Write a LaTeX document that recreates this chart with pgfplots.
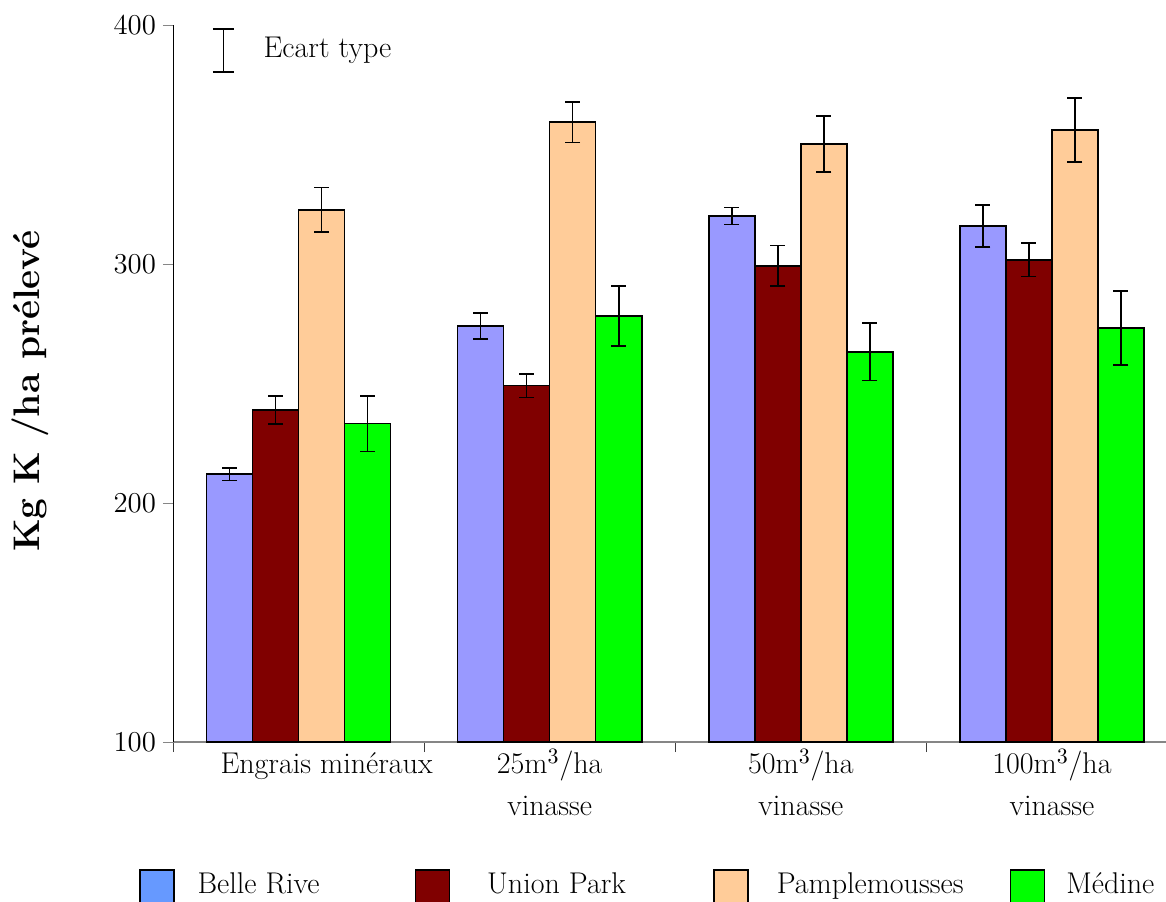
\documentclass[border=0pt]{standalone}
\usepackage{pgfplots}
\pgfplotsset{compat=1.18}
\usepackage{pgfplotstable}
\definecolor{brbar}{HTML}{9999FF}
\definecolor{brleg}{HTML}{6699FF}
\definecolor{upc}{HTML}{800000}
\definecolor{pac}{HTML}{FFCC99}
\definecolor{mec}{HTML}{00FF00}
\definecolor{axgray}{HTML}{868686}

\pgfplotstableread{
x br brerr up uperr pa paerr me meerr
0 212.1 2.6 238.9 5.8 322.7 9.3 233.2 11.7
1 274.1 5.4 249.1 5.0 359.4 8.5 278.2 12.5
2 320.1 3.5 299.2 8.5 350.3 11.7 263.2 12.0
3 316.0 8.8 301.7 7.0 356.1 13.4 273.2 15.5
}\data

\pgfplotsset{
  base/.style={scale only axis, width=502.25pt, height=358.5pt,
    at={(86.5pt,-371pt)}, anchor=south west,
    xmin=-0.5, xmax=3.5, ymin=100, ymax=400},
  sqleg/.style={legend image code/.code={\path[draw=black, fill=#1, line width=0.8pt] (0pt,-5pt) rectangle (17pt,12pt);}},
  mybar/.style={ybar, bar width=0.1832, bar shift=0pt, draw=black, line width=0.8pt, forget plot},
  myerr/.style={error bars/.cd, y dir=both, y explicit,
    error bar style={line width=0.8pt, black},
    error mark options={rotate=90, mark size=3.75pt, line width=0.8pt, black}},
}

\begin{document}
\begin{tikzpicture}
\begin{axis}[base,
  font=\fontsize{15}{18}\selectfont,
  axis x line*=bottom, axis y line*=left,
  x axis line style={draw=axgray, line width=0.8pt, -},
  y axis line style={draw=black, line width=0.5pt, -},
  xtick={0,1,2,3},
  xticklabels={\hspace*{28pt}Engrais minéraux\vphantom{m$^3$}, 25m$^3$/ha\\vinasse, 50m$^3$/ha\\vinasse, 100m$^3$/ha\\vinasse},
  x tick label style={align=center, font=\fontsize{15}{21}\selectfont, yshift=5pt},
  major x tick style={draw=none},
  minor xtick={-0.5,0.5,1.5,2.5},
  minor x tick style={draw=black!75, line width=0.5pt},
  minor tick length=5pt,
  major tick length=5pt,
  tick align=outside,
  ytick={100,200,300,400},
  y tick style={draw=axgray, line width=0.5pt},
  y tick label style={font=\fontsize{15}{18}\selectfont},
  ylabel={Kg K /ha prélevé},
  ylabel style={font=\fontsize{18.5}{22}\selectfont\bfseries, at={(axis description cs:-0.1424,0.4895)}, anchor=center},
  legend columns=4,
  legend style={at={(axis description cs:-0.03385,-0.1771)}, anchor=north west,
    draw=none, fill=none, inner sep=0pt, outer sep=0pt, column sep=0pt, row sep=0pt,
    cells={anchor=base west}, nodes={inner sep=0pt},
    font=\fontsize{15}{18}\selectfont},
]
\addplot[mybar, fill=brbar, myerr] table[x expr=\thisrow{x}-0.2748, y=br, y error=brerr] {\data};
\addplot[mybar, fill=upc, myerr] table[x expr=\thisrow{x}-0.0916, y=up, y error=uperr] {\data};
\addplot[mybar, fill=pac, myerr] table[x expr=\thisrow{x}+0.0916, y=pa, y error=paerr] {\data};
\addplot[mybar, fill=mec, myerr] table[x expr=\thisrow{x}+0.2748, y=me, y error=meerr] {\data};

\addlegendimage{sqleg=brleg}
\addlegendentry{\makebox[120pt][l]{\hspace*{11.5pt}Belle Rive}}
\addlegendimage{sqleg=upc}
\addlegendentry{\makebox[131.5pt][l]{\hspace*{18.5pt}Union Park}}
\addlegendimage{sqleg=pac}
\addlegendentry{\makebox[130.5pt][l]{\hspace*{14pt}Pamplemousses}}
\addlegendimage{sqleg=mec}
\addlegendentry{\makebox[60pt][l]{\hspace*{10.5pt}Médine}}
\end{axis}

\begin{axis}[base, hide axis,
  legend style={at={(axis description cs:0.03883,0.99582)}, anchor=north west,
    draw=none, fill=none, inner sep=0pt, outer sep=0pt,
    cells={anchor=base west}, nodes={inner sep=0pt},
    font=\fontsize{15}{18}\selectfont},
]
\addlegendimage{legend image code/.code={\draw[black, line width=0.8pt] (5.25pt,-7pt)--(5.25pt,14.5pt) (0pt,-7pt)--(10.5pt,-7pt) (0pt,14.5pt)--(10.5pt,14.5pt);}}
\addlegendentry{\hspace*{14.5pt}Ecart type}
\end{axis}

\pgfresetboundingbox
\useasboundingbox (0,0) rectangle (583pt,-450.5pt);
\end{tikzpicture}
\end{document}
